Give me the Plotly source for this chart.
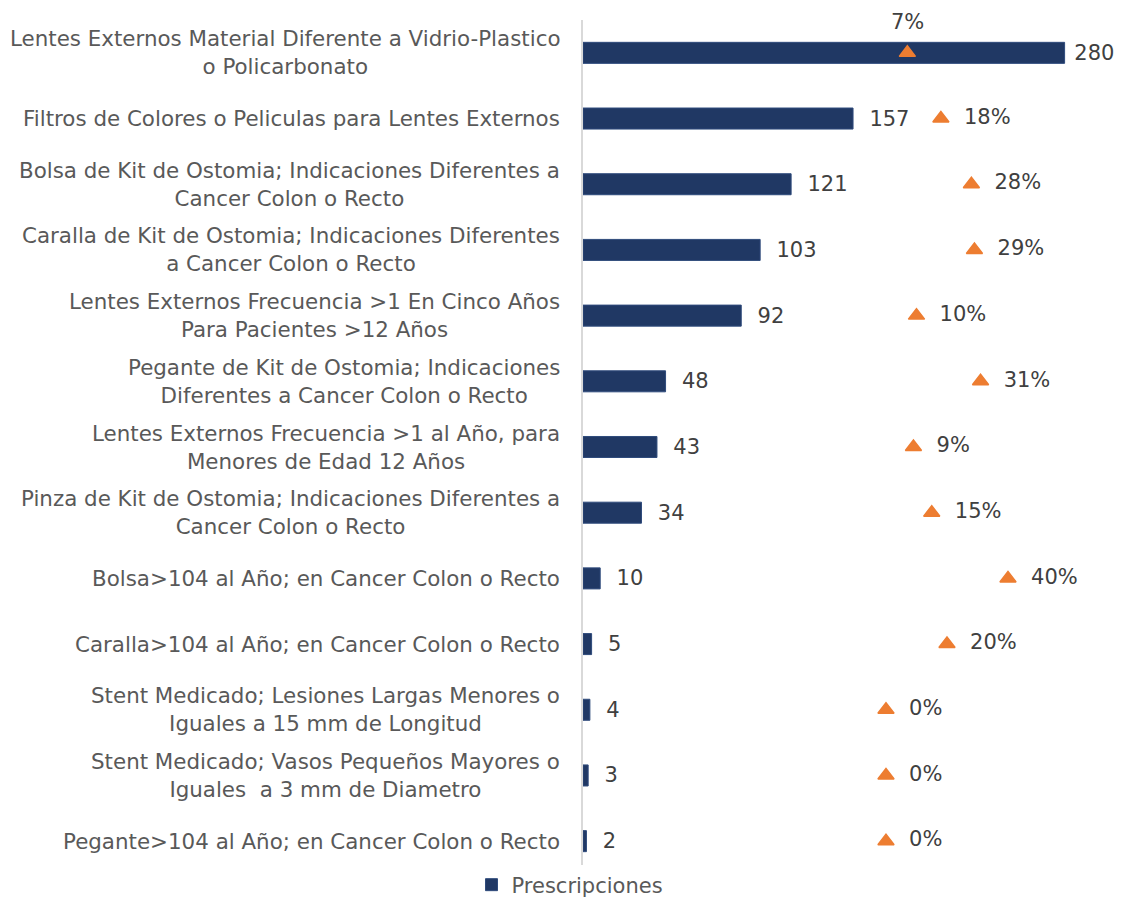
import plotly.graph_objects as go

categories = [
    "Lentes Externos Material Diferente a Vidrio-Plastico<br>o Policarbonato",
    "Filtros de Colores o Peliculas para Lentes Externos",
    "Bolsa de Kit de Ostomia; Indicaciones Diferentes a<br>Cancer Colon o Recto",
    "Caralla de Kit de Ostomia; Indicaciones Diferentes<br>a Cancer Colon o Recto",
    "Lentes Externos Frecuencia >1 En Cinco Años<br>Para Pacientes >12 Años",
    "Pegante de Kit de Ostomia; Indicaciones<br>Diferentes a Cancer Colon o Recto",
    "Lentes Externos Frecuencia >1 al Año, para<br>Menores de Edad 12 Años",
    "Pinza de Kit de Ostomia; Indicaciones Diferentes a<br>Cancer Colon o Recto",
    "Bolsa>104 al Año; en Cancer Colon o Recto",
    "Caralla>104 al Año; en Cancer Colon o Recto",
    "Stent Medicado; Lesiones Largas Menores o<br>Iguales a 15 mm de Longitud",
    "Stent Medicado; Vasos Pequeños Mayores o<br>Iguales  a 3 mm de Diametro",
    "Pegante>104 al Año; en Cancer Colon o Recto",
]
prescripciones = [280, 157, 121, 103, 92, 48, 43, 34, 10, 5, 4, 3, 2]
porcentaje = [0.07, 0.18, 0.28, 0.29, 0.10, 0.31, 0.09, 0.15, 0.40, 0.20, 0.00, 0.00, 0.00]

FONT = "DejaVu Sans"
FS = 21
LFS = 21.4
NAVY = "#203864"
ORANGE = "#ED7D31"

n = len(categories)
fig = go.Figure()
fig.add_trace(go.Bar(
    x=prescripciones, y=categories, orientation="h",
    name="Prescripciones",
    marker=dict(color=NAVY, line=dict(width=1, color="#2F4B7C")),
    width=0.32,
    text=prescripciones,
    texttemplate=[" %{x}"] + ["  %{x}"] * (n - 1),
    textposition="outside",
    constraintext="none",
    textfont=dict(family=FONT, size=FS, color="#404040"),
    cliponaxis=False,
))
fig.add_trace(go.Scatter(
    x=porcentaje, y=categories, xaxis="x2", mode="markers+text",
    marker=dict(symbol="triangle-up", size=14, color=ORANGE,
                line=dict(width=1.5, color=ORANGE)),
    texttemplate=[""] + ["  %{x:.0%}"] * (n - 1),
    textposition="middle right",
    textfont=dict(family=FONT, size=FS, color="#404040"),
    showlegend=False, cliponaxis=False,
))
# first percentage label sits above its marker
fig.add_annotation(
    x=porcentaje[0], xref="x2", y=categories[0], yref="y",
    text=f"{porcentaje[0]:.0%}", showarrow=False, yshift=31,
    font=dict(family=FONT, size=FS, color="#404040"),
)

for c in categories:
    fig.add_annotation(
        x=0, xref="paper", xanchor="right", xshift=-21,
        y=c, yref="y", yanchor="middle",
        text=c, align="center", showarrow=False,
        font=dict(family=FONT, size=LFS, color="#595959"),
    )

fig.update_layout(
    width=1114, height=891,
    margin=dict(l=575, r=23, t=12, b=25, autoexpand=False),
    paper_bgcolor="white", plot_bgcolor="white",
    font=dict(family=FONT, size=FS, color="#595959"),
    xaxis=dict(range=[0, 300], visible=False, fixedrange=True),
    xaxis2=dict(range=[-0.9934, 0.6984], overlaying="x", side="top", visible=False),
    yaxis=dict(range=[n - 0.5, -0.5], showticklabels=False, showline=True,
               linecolor="#D9D9D9", linewidth=2, ticks="", showgrid=False,
               zeroline=False),
    legend=dict(orientation="h", xref="container", yref="container",
                x=0.5045, xanchor="center", y=0.0157, yanchor="middle",
                font=dict(family=FONT, size=FS, color="#595959"),
                itemwidth=30),
    showlegend=True,
)

fig.write_html("out.html")
